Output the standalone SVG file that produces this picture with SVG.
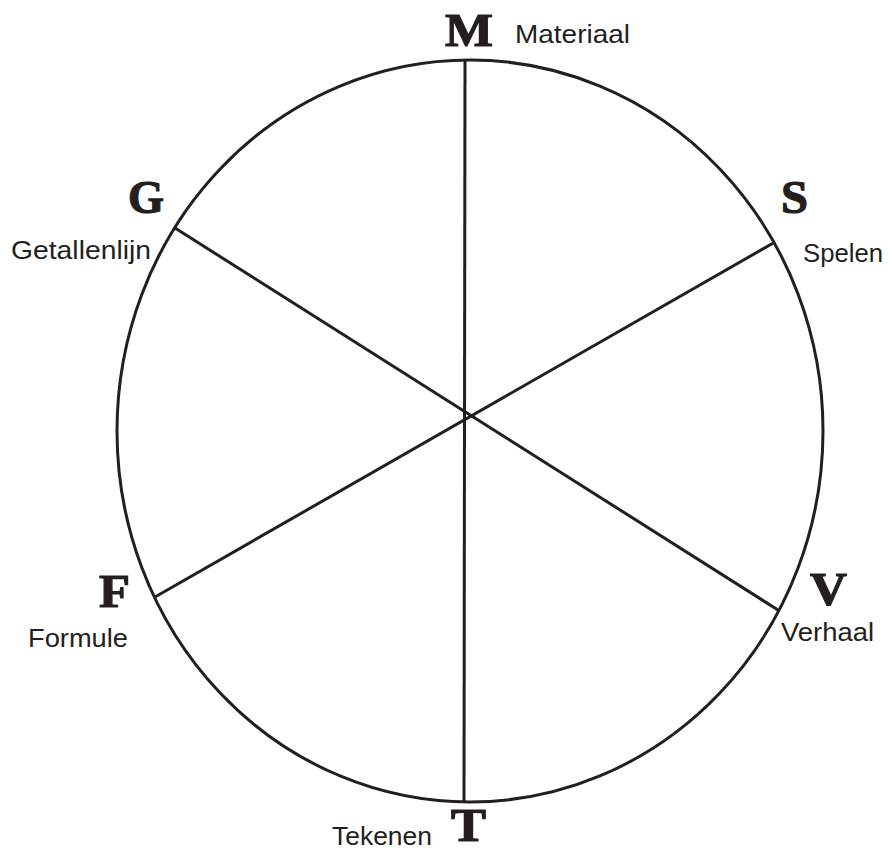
<svg xmlns="http://www.w3.org/2000/svg" width="889" height="852" viewBox="0 0 889 852">
<style>
.ln{fill:none;stroke:#231f20;stroke-width:3;stroke-linecap:butt}
.big{font-family:"Liberation Serif",serif;font-weight:bold;font-size:46px;fill:#231f20;stroke:#231f20;stroke-width:1.2}
.lbl{font-family:"Liberation Sans",Arial,sans-serif;font-size:26px;fill:#231f20}
</style>
<rect width="889" height="852" fill="#ffffff"/>
<g id="wheel">
<ellipse class="ln" cx="470" cy="431" rx="353" ry="371"/>
</g>
<g id="connectors">
<line class="ln" x1="465" y1="60" x2="464" y2="802"/>
<line class="ln" x1="175" y1="228" x2="778" y2="610"/>
<line class="ln" x1="775" y1="242" x2="155" y2="597"/>
</g>
<g id="node-M">
<text class="big" x="445" y="46" textLength="48" lengthAdjust="spacingAndGlyphs">M</text>
<text class="lbl" x="515" y="43" textLength="115" lengthAdjust="spacingAndGlyphs">Materiaal</text>
</g>
<g id="node-G">
<text class="big" x="128" y="213" textLength="36" lengthAdjust="spacingAndGlyphs">G</text>
<text class="lbl" x="11" y="259" textLength="140" lengthAdjust="spacingAndGlyphs">Getallenlijn</text>
</g>
<g id="node-S">
<text class="big" x="781" y="213" textLength="27" lengthAdjust="spacingAndGlyphs">S</text>
<text class="lbl" x="803" y="262" textLength="80" lengthAdjust="spacingAndGlyphs">Spelen</text>
</g>
<g id="node-F">
<text class="big" x="99" y="607" textLength="31" lengthAdjust="spacingAndGlyphs">F</text>
<text class="lbl" x="28" y="647" textLength="100" lengthAdjust="spacingAndGlyphs">Formule</text>
</g>
<g id="node-V">
<text class="big" x="810" y="605" textLength="37" lengthAdjust="spacingAndGlyphs">V</text>
<text class="lbl" x="781" y="641" textLength="93" lengthAdjust="spacingAndGlyphs">Verhaal</text>
</g>
<g id="node-T">
<text class="big" x="451" y="841" textLength="35" lengthAdjust="spacingAndGlyphs">T</text>
<text class="lbl" x="332" y="845" textLength="100" lengthAdjust="spacingAndGlyphs">Tekenen</text>
</g>
</svg>
